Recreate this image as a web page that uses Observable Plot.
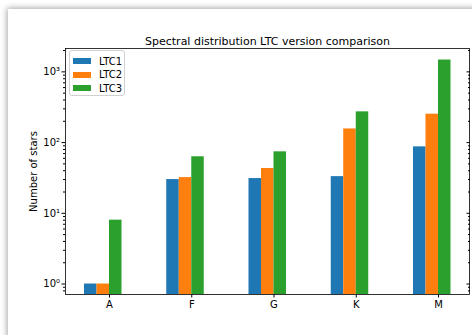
<!DOCTYPE html>
<html>
<head>
<meta charset="utf-8">
<script src="https://cdn.jsdelivr.net/npm/d3@7"></script>
<script src="https://cdn.jsdelivr.net/npm/@observablehq/plot@0.6"></script>
<style>
  html, body { margin: 0; padding: 0; background: #fff; width: 472px; height: 335px; overflow: hidden; }
  #wrap { position: relative; width: 472px; height: 335px; font-family: "DejaVu Sans", sans-serif; }
  #card { position: absolute; left: 8px; top: 9px; width: 500px; height: 360px; background: #fff;
          box-shadow: -1px -1px 6px rgba(0,0,0,0.35); }
  #chart { position: absolute; left: 0; top: 0; }
  #legend { position: absolute; left: 69px; top: 50px; width: 56px; height: 46px; box-sizing: border-box;
            border: 1px solid #d0d0d0; border-radius: 3px; background: rgba(255,255,255,0.85); font-size: 10px; color: #000; }
  .row { position: absolute; left: 3px; height: 12px; display: flex; align-items: center; }
  .sw { width: 18px; height: 6px; margin-right: 8px; }
</style>
</head>
<body>
<div id="wrap">
  <div id="card"></div>
  <div id="chart"></div>
  <div id="legend"></div>
</div>
<script>
const categories = ["A", "F", "G", "K", "M"];
const seriesNames = ["LTC1", "LTC2", "LTC3"];
const LTC1 = [1, 30, 31, 33, 87];
const LTC2 = [1, 32, 43, 156, 252];
const LTC3 = [8, 63, 74, 272, 1470];
const colors = ["#1f77b4", "#ff7f0e", "#2ca02c"];
const title = "Spectral distribution LTC version comparison";
const yTicks = [1, 10, 100, 1000];
const yTickLabels = ["10\u2070", "10\u00b9", "10\u00b2", "10\u00b3"];

const seriesValues = [LTC1, LTC2, LTC3];
const barW = 0.152;
const rows = [];
seriesValues.forEach((vals, s) => {
  vals.forEach((v, i) => {
    const x1 = i + (s - 2) * barW;
    rows.push({series: seriesNames[s], cat: categories[i], x1, x2: x1 + barW, value: v});
  });
});
const minorTicks = [];
for (let e = -1; e <= 3; e++) for (let m = 2; m <= 9; m++) {
  const v = m * Math.pow(10, e);
  if (v >= 0.711 && v <= 2140) minorTicks.push(v);
}

const plot = Plot.plot({
  width: 472,
  height: 335,
  marginLeft: 65,
  marginRight: 3,
  marginTop: 48,
  marginBottom: 41,
  style: {fontFamily: "DejaVu Sans, sans-serif", fontSize: "10px", background: "transparent", color: "#000"},
  x: {type: "linear", domain: [-0.535, 4.377]},
  y: {type: "log", domain: [0.711, 2140]},
  color: {domain: seriesNames, range: colors},
  marks: [
    Plot.rectY(rows, {x1: "x1", x2: "x2", y1: 0.711, y2: "value", fill: "series"}),
    Plot.axisX({ticks: d3.range(categories.length), tickFormat: i => categories[i], tickSize: 3.5, tickPadding: 3, label: null, fontSize: 10}),
    Plot.axisY({ticks: yTicks, tickFormat: (d, i) => yTickLabels[yTicks.indexOf(d)], tickSize: 3.5, tickPadding: 2,
                label: "Number of stars", labelAnchor: "center", labelOffset: 36, labelArrow: "none", fontSize: 10}),
    Plot.axisY({ticks: minorTicks, tickFormat: () => "", tickSize: 2, label: null}),
    Plot.axisY({anchor: "right", ticks: yTicks, tickFormat: () => "", tickSize: -3.5, label: null}),
    Plot.axisY({anchor: "right", ticks: minorTicks, tickFormat: () => "", tickSize: -2, label: null}),
    Plot.frame({stroke: "#000", strokeWidth: 0.8}),
    Plot.text([title], {frameAnchor: "top", dy: -11, fontSize: 11, fill: "#000"})
  ]
});
document.getElementById("chart").appendChild(plot);

const legend = document.getElementById("legend");
seriesNames.forEach((name, i) => {
  const r = document.createElement("div");
  r.className = "row";
  r.style.top = (4 + i * 13.7) + "px";
  r.innerHTML = `<span class="sw" style="background:${colors[i]}"></span><span>${name}</span>`;
  legend.appendChild(r);
});
</script>
</body>
</html>
